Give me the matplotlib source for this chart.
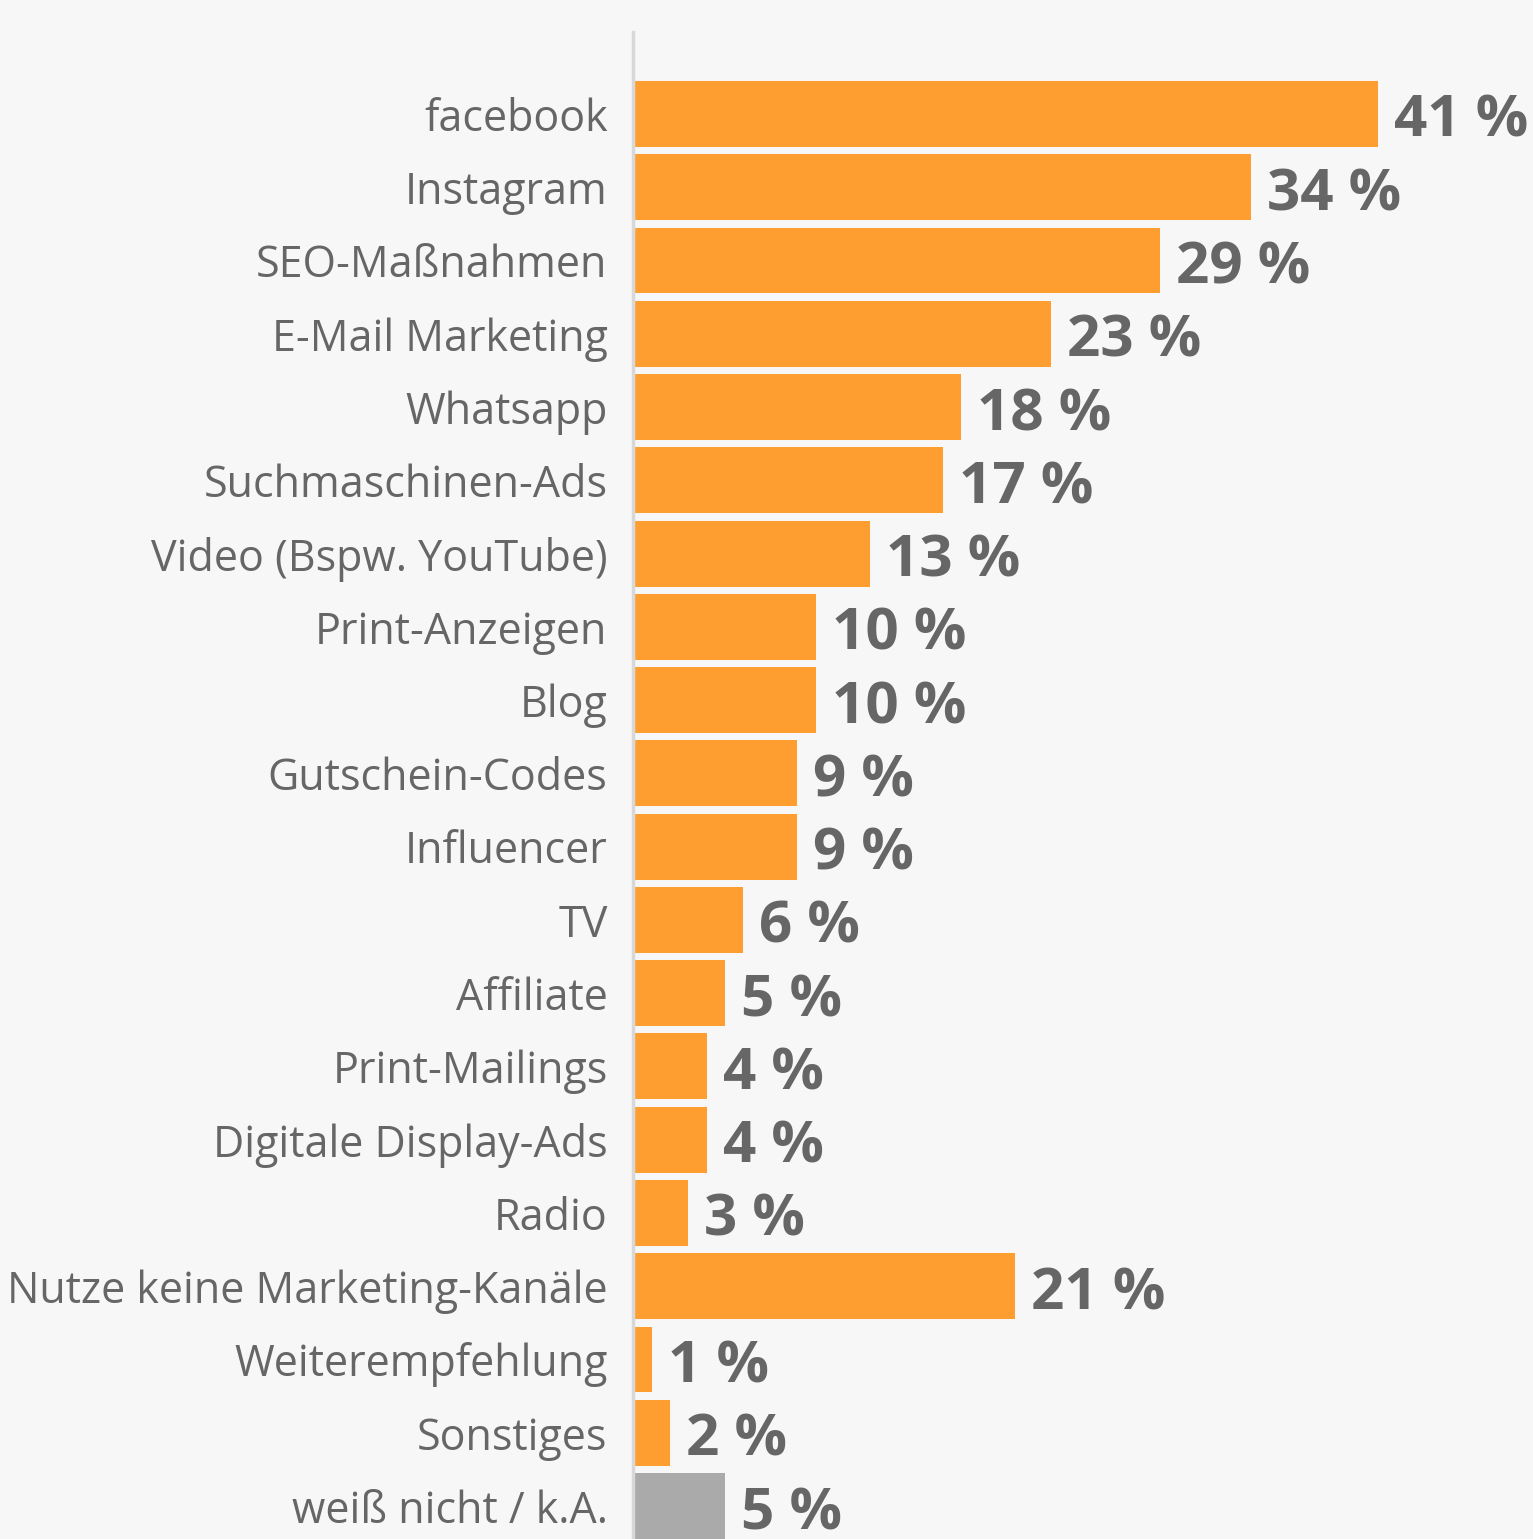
import matplotlib
matplotlib.use("Agg")
import matplotlib.pyplot as plt

categories = ["facebook", "Instagram", "SEO-Maßnahmen", "E-Mail Marketing", "Whatsapp",
              "Suchmaschinen-Ads", "Video (Bspw. YouTube)", "Print-Anzeigen", "Blog",
              "Gutschein-Codes", "Influencer", "TV", "Affiliate", "Print-Mailings",
              "Digitale Display-Ads", "Radio", "Nutze keine Marketing-Kanäle",
              "Weiterempfehlung", "Sonstiges", "weiß nicht / k.A."]
values = [41, 34, 29, 23, 18, 17, 13, 10, 10, 9, 9, 6, 5, 4, 4, 3, 21, 1, 2, 5]
value_labels = [f"{v} %" for v in values]

BG = "#f7f7f7"
ORANGE = "#fe9e31"
GRAY = "#aaaaaa"
colors = [ORANGE] * (len(values) - 1) + [GRAY]

plt.rcParams['font.family'] = ['Open Sans', 'DejaVu Sans']

fig = plt.figure(figsize=(15.33, 15.39), dpi=100, facecolor=BG)
ax = fig.add_axes([634 / 1533, 0, 1 - 634 / 1533, (1539 - 32) / 1539])
ax.set_facecolor(BG)

y = list(range(len(categories)))
ax.barh(y, values, height=0.9, color=colors, zorder=2)

ax.set_xlim(0, (1533 - 634) / 18.15)
ax.set_ylim(19.45, -1.119)

ax.set_yticks(y)
ax.set_yticklabels(categories)
ax.tick_params(axis='y', length=0, pad=18, labelsize=31, labelcolor="#666666")
for t in ax.get_yticklabels():
    t.set_va("center_baseline")
ax.set_xticks([])

for s in ["top", "right", "bottom"]:
    ax.spines[s].set_visible(False)
ax.spines["left"].set_color("#d8d8d8")
ax.spines["left"].set_linewidth(2.5)
ax.spines["left"].set_position(("outward", 1))

for yi, v, lab in zip(y, values, value_labels):
    ax.annotate(lab, xy=(v, yi), xytext=(16, -23), textcoords="offset pixels",
                va="baseline", ha="left", fontsize=42, fontweight="bold",
                color="#666666", annotation_clip=False)

fig.savefig("out.png", dpi=100, facecolor=BG)
